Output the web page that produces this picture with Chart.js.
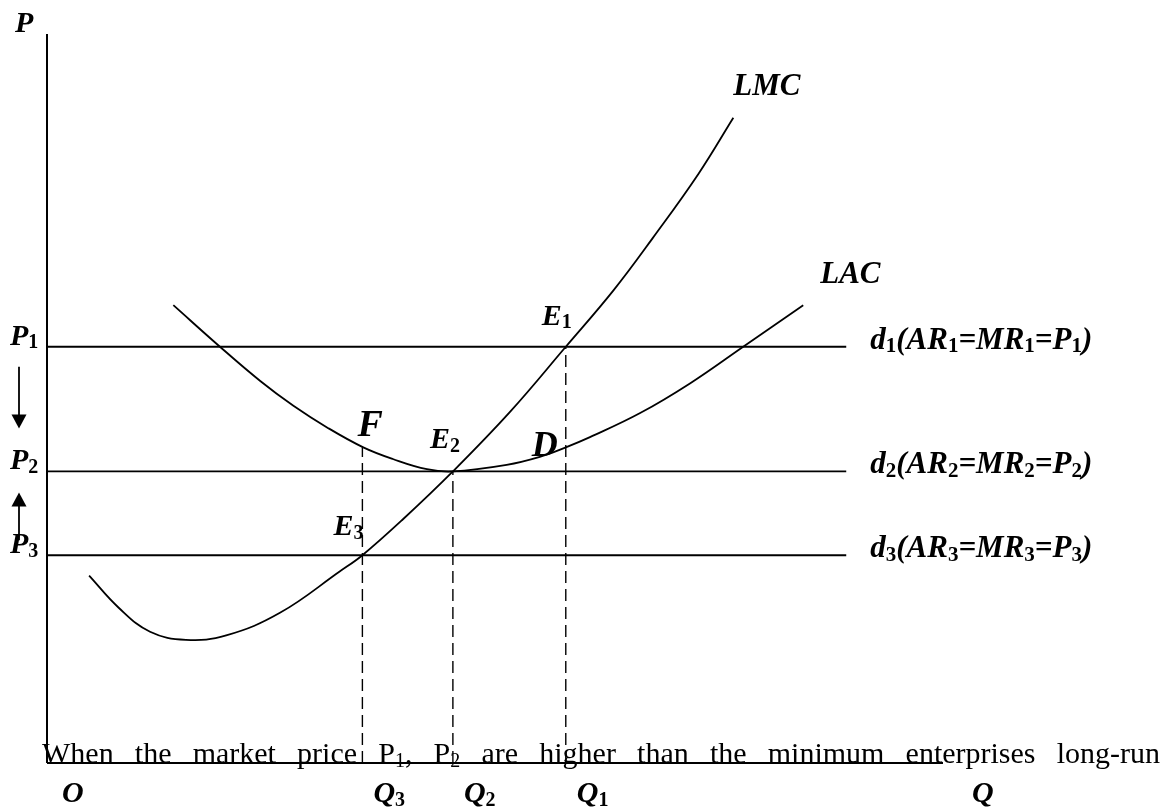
<!DOCTYPE html>
<html>
<head>
<meta charset="utf-8">
<script src="https://cdn.jsdelivr.net/npm/chart.js@4.4.1/dist/chart.umd.min.js"></script>
<style>
  html, body { margin: 0; padding: 0; background: #fff; }
  #wrap { width: 1167px; height: 809px; }
</style>
</head>
<body>
<div id="wrap"><canvas id="lrChart"></canvas></div>
<script>
// ----- data (Q on x, P on y, 0..100 each) -----
const axisMax = 100;
const priceNames = ['P1', 'P2', 'P3'];
const priceValues = [57.1, 40.0, 28.5];
const demandNames = ['d1(AR1=MR1=P1)', 'd2(AR2=MR2=P2)', 'd3(AR3=MR3=P3)'];
const priceLineEnd = 89.2;

const qtyNames = ['Q3', 'Q2', 'Q1'];
const qtyValues = [35.2, 45.3, 57.9];
const qtyDashTop = [43.3, 40.0, 57.1];   // F on LAC, E2, E1

const lmcQ = [4.7, 8.0, 11.5, 15.5, 20.0, 26.0, 32.7, 35.2, 39.7, 45.3, 51.7, 57.9, 63.2, 67.6, 72.7, 76.6];
const lmcP = [25.7, 21.3, 18.0, 16.9, 17.5, 20.6, 26.3, 28.5, 33.4, 40.0, 48.2, 57.1, 64.8, 72.0, 80.8, 88.5];

const lacQ = [14.1, 19.3, 23.8, 27.5, 31.3, 35.3, 38.6, 42.4, 45.3, 51.3, 55.0, 57.9, 60.6, 66.2, 71.8, 77.7, 84.4];
const lacP = [62.8, 57.1, 52.4, 49.0, 46.0, 43.3, 41.7, 40.3, 40.0, 40.9, 42.0, 43.3, 44.7, 48.0, 52.1, 57.1, 62.8];

const bodyText = 'When the market price P1, P2 are higher than the minimum enterprises long-run';

const SERIF = '"Liberation Serif", "Times New Roman", serif';

function pts(xs, ys) {
    return xs.map(function (x, i) { return { x: x, y: ys[i] }; });
}

// split a label into runs, digits become subscripts
function runs(label) {
    var out = [];
    label.split('').forEach(function (ch) {
        var isSub = /[0-9]/.test(ch);
        var last = out[out.length - 1];
        if (last && last.sub === isSub) last.t += ch;
        else out.push({ t: ch, sub: isSub });
    });
    return out;
}

function rich(ctx, label, x, y, size, style, measureOnly) {
    var cx = x;
    runs(label).forEach(function (r) {
        var fs = r.sub ? Math.round(size * 0.68) : size;
        var st = r.sub ? style.replace('italic', '').trim() || 'normal' : style;
        ctx.font = st + ' ' + fs + 'px ' + SERIF;
        if (!measureOnly) ctx.fillText(r.t, cx, r.sub ? y + size * 0.12 : y);
        cx += ctx.measureText(r.t).width;
    });
    return cx - x;
}

function arrow(ctx, x, yFrom, yTip) {
    var dir = yTip > yFrom ? 1 : -1;
    ctx.beginPath();
    ctx.moveTo(x, yFrom);
    ctx.lineTo(x, yTip - dir * 13);
    ctx.stroke();
    ctx.beginPath();
    ctx.moveTo(x, yTip);
    ctx.lineTo(x - 7.5, yTip - dir * 14);
    ctx.lineTo(x + 7.5, yTip - dir * 14);
    ctx.closePath();
    ctx.fill();
}

// labels, arrows and the overlapping text line
const annotations = {
    id: 'annotations',
    afterDatasetsDraw: function (chart) {
        var ctx = chart.ctx;
        var X = function (v) { return chart.scales.x.getPixelForValue(v); };
        var Y = function (v) { return chart.scales.y.getPixelForValue(v); };
        var x0 = X(0), yb = Y(0);
        var BI = 'italic bold';
        ctx.save();
        ctx.fillStyle = '#000';
        ctx.strokeStyle = '#000';
        ctx.lineWidth = 1.8;
        ctx.textBaseline = 'alphabetic';

        rich(ctx, 'P', x0 - 32, Y(axisMax) - 2, 30, BI);
        priceNames.forEach(function (n, i) {
            rich(ctx, n, x0 - 37, Y(priceValues[i]) - 2, 30, BI);
            rich(ctx, demandNames[i], X(priceLineEnd) + 24, Y(priceValues[i]) + 2, 31, BI);
        });

        rich(ctx, 'E1', X(qtyValues[2]) - 24, Y(priceValues[0]) - 22, 30, BI);
        rich(ctx, 'E2', X(qtyValues[1]) - 23, Y(priceValues[1]) - 23, 30, BI);
        rich(ctx, 'E3', X(qtyValues[0]) - 29, Y(priceValues[2]) - 20, 30, BI);
        rich(ctx, 'F', X(qtyValues[0]) - 5, Y(qtyDashTop[0]) - 11, 38, BI);
        rich(ctx, 'D', X(qtyValues[2]) - 34, Y(qtyDashTop[0]) + 9, 36, BI);

        var n = lmcQ.length - 1;
        rich(ctx, 'LMC', X(lmcQ[n]), Y(lmcP[n]) - 23, 31, BI);
        n = lacQ.length - 1;
        rich(ctx, 'LAC', X(lacQ[n]) + 17, Y(lacP[n]) - 22, 31, BI);

        rich(ctx, 'O', x0 + 15, yb + 39, 30, BI);
        qtyNames.forEach(function (q, i) {
            rich(ctx, q, X(qtyValues[i]) + 11, yb + 39, 30, BI);
        });
        rich(ctx, 'Q', X(axisMax) + 29, yb + 39, 30, BI);

        // price adjustment arrows
        arrow(ctx, x0 - 28, Y(priceValues[0]) + 20, Y(priceValues[1]) - 43);
        arrow(ctx, x0 - 28, Y(priceValues[2]) - 15, Y(priceValues[1]) + 21);

        // justified text line lying over the Q axis
        var words = bodyText.split(' ');
        var widths = words.map(function (w) { return rich(ctx, w, 0, 0, 30, 'normal', true); });
        var total = widths.reduce(function (a, b) { return a + b; }, 0);
        var left = x0 - 5, right = 1160;
        var gap = (right - left - total) / (words.length - 1);
        var cx = left;
        words.forEach(function (w, i) {
            rich(ctx, w, cx, yb, 30, 'normal');
            cx += widths[i] + gap;
        });
        ctx.restore();
    }
};

function lineSet(data, extra) {
    return Object.assign({
        data: data,
        showLine: true,
        borderColor: '#000',
        borderWidth: 1.8,
        pointRadius: 0,
        clip: false
    }, extra || {});
}

var datasets = [
    lineSet([{ x: 0, y: 0 }, { x: 0, y: axisMax }], { borderWidth: 2 }),
    lineSet([{ x: 0, y: 0 }, { x: axisMax, y: 0 }], { borderWidth: 2 })
];
priceValues.forEach(function (p) {
    datasets.push(lineSet([{ x: 0, y: p }, { x: priceLineEnd, y: p }]));
});
qtyValues.forEach(function (q, i) {
    datasets.push(lineSet([{ x: q, y: 0 }, { x: q, y: qtyDashTop[i] }], { borderWidth: 1.4, borderDash: [12, 6] }));
});
datasets.push(lineSet(pts(lmcQ, lmcP), { tension: 0.4 }));
datasets.push(lineSet(pts(lacQ, lacP), { tension: 0.4 }));

new Chart(document.getElementById('lrChart'), {
    type: 'scatter',
    data: { datasets: datasets },
    options: {
        responsive: true,
        maintainAspectRatio: false,
        animation: false,
        layout: { padding: { left: 47, right: 224, top: 34, bottom: 46 } },
        scales: {
            x: { type: 'linear', min: 0, max: axisMax, display: false },
            y: { type: 'linear', min: 0, max: axisMax, display: false }
        },
        plugins: {
            legend: { display: false },
            tooltip: { enabled: false }
        }
    },
    plugins: [annotations]
});
</script>
</body>
</html>
